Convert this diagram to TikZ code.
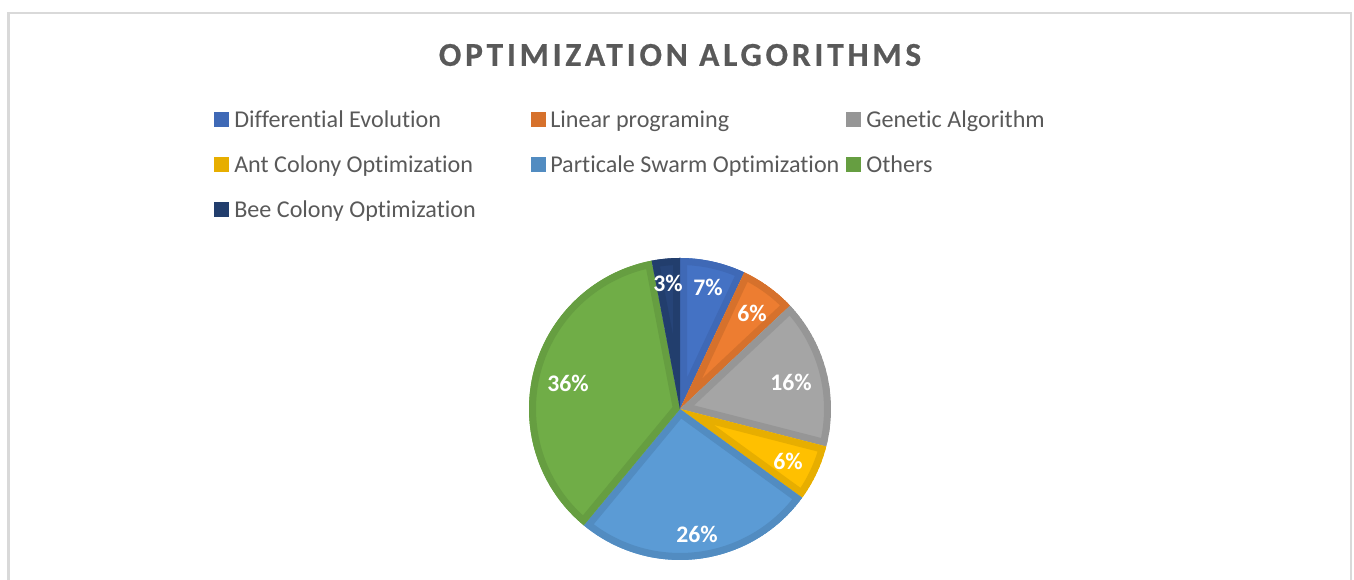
\documentclass[tikz,border=0pt]{standalone}
\usepackage{fontspec}
\setmainfont{Carlito}[Ligatures={NoCommon}]
\newfontfamily\titlefont{Carlito Bold}[Ligatures={NoCommon}, LetterSpace=11.5, FakeBold=0.6]
\usetikzlibrary{positioning}

\definecolor{txtgray}{HTML}{595959}
\definecolor{framegray}{HTML}{D9D9D9}
\definecolor{deFill}{HTML}{4472C4}  \definecolor{deEdge}{HTML}{3F69B6}
\definecolor{lpFill}{HTML}{ED7D31}  \definecolor{lpEdge}{HTML}{D6712C}
\definecolor{gaFill}{HTML}{A5A5A5}  \definecolor{gaEdge}{HTML}{969696}
\definecolor{acoFill}{HTML}{FFC000} \definecolor{acoEdge}{HTML}{E7AE00}
\definecolor{psoFill}{HTML}{5B9BD5} \definecolor{psoEdge}{HTML}{528CC1}
\definecolor{othFill}{HTML}{70AD47} \definecolor{othEdge}{HTML}{669E41}
\definecolor{bcoFill}{HTML}{264478} \definecolor{bcoEdge}{HTML}{223E6D}

\tikzset{
  keybox/.style={fill=#1, minimum size=11.25pt, inner sep=0pt},
  keytext/.style={text=txtgray, font=\fontsize{18.1}{20}\selectfont, inner sep=0pt, anchor=base west},
  pct/.style={text=white, font=\bfseries\fontsize{17.8}{20}\selectfont, inner sep=0pt},
}

% one slice: start angle, end angle, fill, edge
\newcommand{\pieslice}[4]{%
  \begin{scope}
    \clip (ctr) -- ++(#1:113.25pt) arc (#1:#2:113.25pt) -- cycle;
    \fill[#3] (ctr) -- ++(#1:113.25pt) arc (#1:#2:113.25pt) -- cycle;
    \draw[#4, line width=10.5pt, line join=round] (ctr) -- ++(#1:113.25pt) arc (#1:#2:113.25pt) -- cycle;
  \end{scope}}

\begin{document}
\begin{tikzpicture}[x=0.75pt,y=0.75pt]
  \useasboundingbox (0,0) rectangle (1354,580);
  \begin{scope}
    \clip (0,0) rectangle (1354,580);
    \draw[framegray, line width=1.6pt] (8.5,-10) -- (8.5,567) -- (1351,567) -- (1351,-10);
  \end{scope}

  \node[text=txtgray, font=\titlefont\fontsize{25}{30}\selectfont] (title) at (680,525) {OPTIMIZATION ALGORITHMS};

  % legend
  \node[keybox=deEdge]  (de-key)  at (221.5,460) {};
  \node[keybox=lpEdge]  (lp-key)  at (538.5,460) {};
  \node[keybox=gaEdge]  (ga-key)  at (853.5,460) {};
  \node[keybox=acoEdge] (aco-key) at (221.5,415) {};
  \node[keybox=psoEdge] (pso-key) at (538.5,415) {};
  \node[keybox=othEdge] (oth-key) at (853.5,415) {};
  \node[keybox=bcoEdge] (bco-key) at (221.5,370) {};
  \node[keytext] (de-txt)  at (234,452) {Differential Evolution};
  \node[keytext] (lp-txt)  at (550,452) {Linear programing};
  \node[keytext] (ga-txt)  at (866,452) {Genetic Algorithm};
  \node[keytext] (aco-txt) at (234,407) {Ant Colony Optimization};
  \node[keytext] (pso-txt) at (550,407) {Particale Swarm Optimization};
  \node[keytext] (oth-txt) at (866,407) {Others};
  \node[keytext] (bco-txt) at (234,362) {Bee Colony Optimization};

  % pie
  \coordinate (ctr) at (680,171);
  \pieslice{90}{64.8}{deFill}{deEdge}
  \pieslice{64.8}{43.2}{lpFill}{lpEdge}
  \pieslice{43.2}{-14.4}{gaFill}{gaEdge}
  \pieslice{-14.4}{-36}{acoFill}{acoEdge}
  \pieslice{-36}{-129.6}{psoFill}{psoEdge}
  \pieslice{-129.6}{-259.2}{othFill}{othEdge}
  \pieslice{-259.2}{-270}{bcoFill}{bcoEdge}

  \node[pct] (bco-pct) at (668,297) {3\%};
  \node[pct] (de-pct)  at (708,293) {7\%};
  \node[pct] (lp-pct)  at (752,267) {6\%};
  \node[pct] (ga-pct)  at (791,198) {16\%};
  \node[pct] (aco-pct) at (788,119) {6\%};
  \node[pct] (pso-pct) at (697,46)  {26\%};
  \node[pct] (oth-pct) at (568,197) {36\%};
\end{tikzpicture}
\end{document}
